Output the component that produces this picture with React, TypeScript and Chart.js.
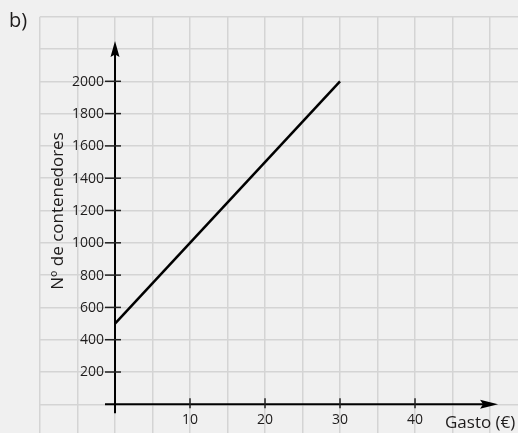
import React, { useEffect, useRef } from "react";
import { Chart, registerables } from "chart.js";

Chart.register(...registerables);

// Data
const lineX = [0, 30];
const lineY = [500, 2000];
const xTickLabels = [10, 20, 30, 40];
const yTickLabels = [200, 400, 600, 800, 1000, 1200, 1400, 1600, 1800, 2000];
const xGridValues = [-10, -5, 0, 5, 10, 15, 20, 25, 30, 35, 40, 45, 50];
const yGridValues = [0, 200, 400, 600, 800, 1000, 1200, 1400, 1600, 1800, 2000, 2200, 2400];
const xTitle = "Gasto (€)";
const yTitle = "Nº de contenedores";
const panelLabel = "b)";

const FONT = '"Open Sans", "DejaVu Sans", sans-serif';
const TEXT = "#1e1c1c";

const axesPlugin = {
  id: "axesPlugin",
  afterDraw(chart: any) {
    const { ctx, scales } = chart;
    const x = scales.x;
    const y = scales.y;
    const x0 = x.getPixelForValue(0);
    const y0 = y.getPixelForValue(0);
    const yTip = y.getPixelForValue(2250);
    const xTip = x.getPixelForValue(51.07);
    ctx.save();
    ctx.strokeStyle = "#000";
    ctx.fillStyle = "#000";
    ctx.lineWidth = 2;
    // y axis
    ctx.beginPath();
    ctx.moveTo(x0, y0 + 9);
    ctx.lineTo(x0, yTip + 10);
    ctx.stroke();
    ctx.beginPath();
    ctx.moveTo(x0, yTip);
    ctx.lineTo(x0 + 4.5, yTip + 16);
    ctx.lineTo(x0, yTip + 13.5);
    ctx.lineTo(x0 - 4.5, yTip + 16);
    ctx.closePath();
    ctx.fill();
    // x axis
    ctx.beginPath();
    ctx.moveTo(x0 - 10, y0);
    ctx.lineTo(xTip - 10, y0);
    ctx.stroke();
    ctx.beginPath();
    ctx.moveTo(xTip, y0);
    ctx.lineTo(xTip - 18, y0 - 4.5);
    ctx.lineTo(xTip - 15, y0);
    ctx.lineTo(xTip - 18, y0 + 4.5);
    ctx.closePath();
    ctx.fill();
    // y ticks
    ctx.lineWidth = 1.5;
    ctx.strokeStyle = "#222";
    yTickLabels.forEach((v) => {
      const py = y.getPixelForValue(v);
      ctx.beginPath();
      ctx.moveTo(x0 - 10, py);
      ctx.lineTo(x0 + 6, py);
      ctx.stroke();
    });
    xTickLabels.forEach((v) => {
      const px = x.getPixelForValue(v);
      ctx.beginPath();
      ctx.moveTo(px, y0 - 6);
      ctx.lineTo(px, y0 + 4);
      ctx.stroke();
    });
    // tick labels
    ctx.fillStyle = TEXT;
    ctx.font = `14px ${FONT}`;
    ctx.textAlign = "right";
    ctx.textBaseline = "middle";
    yTickLabels.forEach((v) => {
      ctx.fillText(String(v), x0 - 11, y.getPixelForValue(v) + 0.5);
    });
    ctx.textAlign = "center";
    ctx.textBaseline = "alphabetic";
    xTickLabels.forEach((v) => {
      ctx.fillText(String(v), x.getPixelForValue(v), y0 + 20);
    });
    // axis titles
    ctx.font = `17px ${FONT}`;
    ctx.textAlign = "left";
    ctx.fillText(xTitle, 445, y0 + 24);
    ctx.save();
    ctx.translate(63, 211);
    ctx.rotate(-Math.PI / 2);
    ctx.textAlign = "center";
    ctx.fillText(yTitle, 0, 0);
    ctx.restore();
    // panel label
    ctx.font = `20px ${FONT}`;
    ctx.textAlign = "left";
    ctx.fillText(panelLabel, 9, 27);
    ctx.restore();
  },
};

export default function App() {
  const ref = useRef<HTMLCanvasElement | null>(null);
  useEffect(() => {
    if (!ref.current) return;
    const chart = new Chart(ref.current, {
      type: "line",
      data: {
        datasets: [
          {
            data: lineX.map((v, i) => ({ x: v, y: lineY[i] })),
            borderColor: "#000",
            borderWidth: 2.5,
            pointRadius: 0,
            fill: false,
            tension: 0,
          },
        ],
      },
      options: {
        animation: false,
        responsive: false,
        events: [],
        layout: { padding: { left: 40, top: 16.7, right: 0, bottom: 0 } },
        plugins: { legend: { display: false }, tooltip: { enabled: false } },
        scales: {
          x: {
            type: "linear",
            min: -10,
            max: 53.73,
            afterBuildTicks: (s: any) => {
              s.ticks = xGridValues.map((v) => ({ value: v }));
            },
            afterFit: (s: any) => {
              s.height = 0;
            },
            ticks: { display: false },
            border: { display: false },
            grid: { color: "#d4d4d4", lineWidth: 1.5, drawTicks: false },
          },
          y: {
            type: "linear",
            min: -177.7,
            max: 2400,
            afterBuildTicks: (s: any) => {
              s.ticks = yGridValues.map((v) => ({ value: v }));
            },
            afterFit: (s: any) => {
              s.width = 0;
            },
            ticks: { display: false },
            border: { display: false },
            grid: { color: "#d4d4d4", lineWidth: 1.5, drawTicks: false },
          },
        },
      },
      plugins: [axesPlugin],
    });
    if ((document as any).fonts) {
      (document as any).fonts.load(`14px "Open Sans"`).then(() => chart.draw()).catch(() => {});
    }
    return () => chart.destroy();
  }, []);
  return (
    <div
      style={{
        position: "fixed",
        left: 0,
        top: 0,
        width: 518,
        height: 433,
        background: "#f0f0f0",
      }}
    >
      <canvas ref={ref} width={518} height={433} style={{ display: "block" }} />
    </div>
  );
}
